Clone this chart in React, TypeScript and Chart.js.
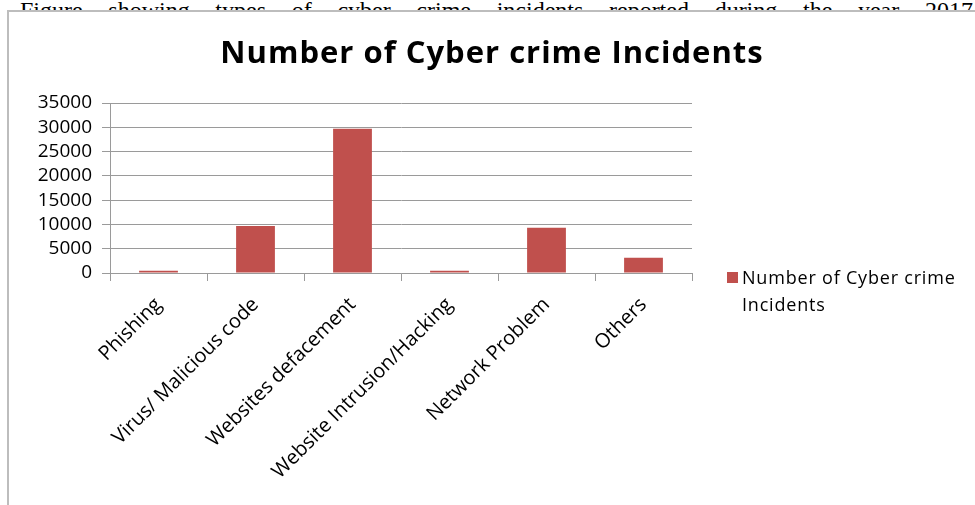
import React, { useEffect, useRef } from "react";
import { Chart, registerables } from "chart.js";

Chart.register(...registerables);

const categories = [
  "Phishing",
  "Virus/ Malicious code",
  "Websites defacement",
  "Website Intrusion/Hacking",
  "Network Problem",
  "Others",
];
const seriesName = "Number of Cyber crime Incidents";
const incidents = [450, 9700, 29700, 450, 9300, 3150];
const yMax = 35000;
const yStep = 5000;
const chartTitle = "Number of Cyber crime Incidents";
const captionText =
  "Figure showing types of cyber crime incidents reported during the year 2017";

const BAR_COLOR = "#C0504D";
const GRID = "#9a9a9a";
const FONT = "'Open Sans', 'Noto Sans', sans-serif";

export default function App() {
  const ref = useRef<HTMLCanvasElement | null>(null);

  useEffect(() => {
    if (!ref.current) return;
    const chart = new Chart(ref.current, {
      type: "bar",
      data: {
        labels: categories,
        datasets: [
          {
            label: seriesName,
            data: incidents,
            backgroundColor: BAR_COLOR,
            borderWidth: 0,
            categoryPercentage: 1,
            barPercentage: 0.4,
          },
        ],
      },
      options: {
        animation: false,
        responsive: false,
        maintainAspectRatio: false,
        layout: { padding: { left: 0, right: 283, top: 91, bottom: 0 } },
        plugins: {
          legend: { display: false },
          tooltip: { enabled: false },
          title: { display: false },
        },
        scales: {
          x: {
            grid: {
              display: true,
              drawOnChartArea: false,
              drawTicks: true,
              tickLength: 8,
              color: GRID,
              offset: true,
            },
            border: { display: true, color: GRID, width: 1 },
            ticks: {
              color: "#000",
              font: { family: FONT, size: 20 },
              minRotation: 45,
              maxRotation: 45,
              autoSkip: false,
              padding: 12,
            },
            afterFit: (s: any) => {
              s.height = 232;
            },
          },
          y: {
            min: 0,
            max: yMax,
            grid: {
              color: GRID,
              lineWidth: 1,
              drawTicks: true,
              tickLength: 8,
            },
            border: { display: true, color: GRID, width: 1 },
            ticks: {
              color: "#000",
              font: { family: FONT, size: 19 },
              padding: 10,
              stepSize: yStep,
              autoSkip: false,
              callback: (v: any) => String(v),
            },
            afterFit: (s: any) => {
              s.width = 101;
            },
          },
        },
      },
    });
    return () => chart.destroy();
  }, []);

  return (
    <div
      style={{
        position: "absolute",
        left: 0,
        top: 0,
        width: 975,
        height: 505,
        overflow: "hidden",
        background: "#fff",
      }}
    >
      <div
        style={{
          position: "absolute",
          left: 20,
          top: 0,
          width: 953,
          height: 10,
          overflow: "hidden",
          display: "flex",
          justifyContent: "space-between",
          alignItems: "flex-start",
          fontFamily: "'Liberation Serif', 'Times New Roman', serif",
          fontSize: 24,
          lineHeight: "20px",
          color: "#000",
        }}
      >
        {captionText.split(" ").map((w, i) => (
          <span key={i}>{w}</span>
        ))}
      </div>
      <div
        style={{
          position: "absolute",
          left: 7,
          top: 10,
          width: 968,
          height: 495,
          borderLeft: "2px solid #bdbdbd",
          borderTop: "2px solid #bdbdbd",
          background: "#fff",
        }}
      >
        <canvas
          ref={ref}
          width={966}
          height={493}
          style={{ position: "absolute", left: 0, top: 0, width: 966, height: 493 }}
        />
        <div
          style={{
            position: "absolute",
            left: 0,
            top: 18,
            width: 966,
            textAlign: "center",
            fontFamily: FONT,
            fontSize: 31,
            fontWeight: "bold",
            letterSpacing: "1px",
            lineHeight: "42px",
            color: "#000",
            whiteSpace: "nowrap",
          }}
        >
          {chartTitle}
        </div>
        <div
          style={{
            position: "absolute",
            left: 718,
            top: 260,
            width: 11,
            height: 11,
            background: BAR_COLOR,
          }}
        />
        <div
          style={{
            position: "absolute",
            left: 733,
            top: 252,
            fontFamily: FONT,
            fontSize: 18,
            letterSpacing: "0.8px",
            lineHeight: "27px",
            color: "#000",
            whiteSpace: "nowrap",
          }}
        >
          Number of Cyber crime
          <br />
          Incidents
        </div>
      </div>
    </div>
  );
}
